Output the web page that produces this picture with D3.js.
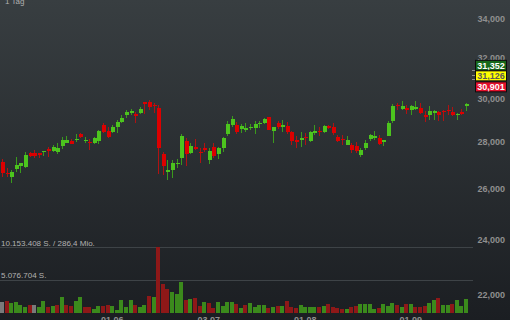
<!DOCTYPE html>
<html>
<head>
<meta charset="utf-8">
<script src="https://cdn.jsdelivr.net/npm/d3@7"></script>
<style>
  body { margin: 0; background: #1c1f23; }
  svg { display: block; }
  text { font-family: "Liberation Sans", Arial, sans-serif; }
</style>
</head>
<body>
<div id="chart"></div>
<script>
// Handelstage (Tageskerzen)
const dates = [
  "27.04", "28.04", "02.05", "03.05", "04.05", "05.05", "08.05", "09.05", "10.05", "11.05",
  "12.05", "15.05", "16.05", "17.05", "18.05", "19.05", "22.05", "23.05", "24.05", "25.05",
  "26.05", "29.05", "30.05", "31.05", "01.06", "02.06", "05.06", "06.06", "07.06", "09.06",
  "12.06", "13.06", "14.06", "15.06", "16.06", "19.06", "20.06", "21.06", "22.06", "23.06",
  "26.06", "27.06", "28.06", "29.06", "30.06", "03.07", "04.07", "05.07", "06.07", "07.07",
  "10.07", "11.07", "12.07", "13.07", "14.07", "17.07", "18.07", "19.07", "20.07", "21.07",
  "24.07", "25.07", "26.07", "27.07", "28.07", "31.07", "01.08", "02.08", "03.08", "04.08",
  "07.08", "08.08", "09.08", "10.08", "11.08", "14.08", "15.08", "16.08", "17.08", "18.08",
  "21.08", "22.08", "23.08", "24.08", "25.08", "28.08", "29.08", "30.08", "31.08", "01.09",
  "04.09", "05.09", "06.09", "07.09", "08.09", "11.09", "12.09", "13.09", "14.09", "15.09",
  "18.09", "19.09"
];

const open = [
  27130, 26660, 26490, 26820, 26960, 26890, 27490, 27490, 27490, 27540,
  27670, 27610, 27560, 27830, 27960, 28020, 28060, 28330, 28020, 27980,
  27930, 28030, 28750, 28470, 28430, 28670, 28890, 29210, 29320, 29260,
  29320, 29800, 29800, 29680, 29520, 27450, 26680, 26780, 27040, 27280,
  28050, 27490, 27780, 27560, 27710, 27200, 27760, 27460, 27740, 28340,
  28750, 28750, 28570, 28540, 28630, 28630, 28800, 28840, 29100, 28470,
  28860, 28670, 28710, 28420, 28060, 28080, 28220, 28050, 28390, 28490,
  28430, 28720, 28650, 28210, 28140, 27870, 27840, 27800, 27430, 27720,
  28120, 28170, 28170, 27990, 28270, 28950, 29690, 29500, 29540, 29430,
  29500, 29540, 29200, 29220, 29300, 29350, 29410, 29460, 29350, 29220,
  29330, 29640
];

const high = [
  27250, 26860, 26780, 27350, 27090, 27540, 27540, 27640, 27500, 27600,
  27780, 27860, 27930, 28200, 28250, 28140, 28340, 28380, 28200, 28140,
  28220, 28520, 28860, 28670, 28750, 28980, 29210, 29440, 29490, 29330,
  29570, 29830, 29910, 29750, 29680, 27560, 27200, 27200, 27230, 28330,
  28180, 27960, 28120, 27740, 27930, 27710, 27960, 27780, 28200, 28930,
  29160, 28870, 28800, 28860, 28780, 28920, 28930, 29060, 29130, 28670,
  28930, 28980, 28900, 28480, 28270, 28420, 28380, 28480, 28740, 28650,
  28760, 28760, 28840, 28310, 28290, 28270, 27940, 27990, 27720, 28090,
  28340, 28470, 28310, 28090, 28920, 29720, 29770, 29850, 29690, 29660,
  29850, 29770, 29380, 29610, 29460, 29410, 29460, 29690, 29570, 29300,
  29500, 29770
];

const low = [
  26490, 26470, 26240, 26700, 26640, 26870, 27320, 27280, 27280, 27380,
  27350, 27560, 27460, 27670, 27930, 27900, 28000, 28180, 27930, 27640,
  27890, 27910, 28400, 28180, 28380, 28390, 28830, 29060, 29210, 28860,
  29260, 29260, 29440, 29290, 26610, 26570, 26360, 26450, 26850, 26990,
  26960, 27450, 27620, 27060, 27540, 27030, 27300, 27230, 27560, 28270,
  28670, 28330, 28380, 28450, 28540, 28330, 28630, 28800, 28520, 27960,
  28560, 28450, 28330, 27860, 27740, 27780, 27860, 28000, 28310, 28270,
  28390, 28570, 28310, 27990, 27870, 27840, 27510, 27510, 27330, 27650,
  28050, 28090, 27840, 27800, 28240, 28840, 29460, 29430, 29260, 29200,
  29460, 29260, 28890, 28970, 28970, 28950, 28920, 29220, 29150, 28970,
  29220, 29410
];

const close = [
  26640, 26600, 26680, 26980, 27060, 27420, 27380, 27390, 27420, 27590,
  27610, 27780, 27720, 28080, 28080, 27910, 28120, 28210, 28090, 27930,
  28170, 28480, 28430, 28220, 28650, 28890, 29090, 29350, 29390, 29180,
  29490, 29720, 29570, 29630, 27710, 26960, 26780, 27090, 27090, 28270,
  27460, 27810, 27670, 27490, 27640, 27610, 27380, 27710, 28150, 28800,
  29020, 28420, 28710, 28630, 28670, 28780, 28860, 29020, 28540, 28650,
  28650, 28750, 28420, 28030, 28000, 28150, 28180, 28420, 28490, 28450,
  28720, 28620, 28390, 28050, 28060, 28090, 27650, 27580, 27650, 27940,
  28290, 28270, 27900, 28090, 28840, 29640, 29610, 29640, 29460, 29610,
  29600, 29300, 29100, 29410, 29410, 29220, 29330, 29380, 29200, 29270,
  29270, 29740
];

// Stückzahlen
const volume = [
  1560000, 1770000, 1410000, 1610000, 1200000, 890000, 1150000, 1150000, 780000, 1720000,
  890000, 940000, 1150000, 2340000, 1150000, 940000, 1770000, 2340000, 890000, 890000,
  620000, 990000, 990000, 1200000, 990000, 360000, 1930000, 890000, 1980000, 1200000,
  830000, 1150000, 2600000, 2400000, 10153408, 4430000, 3590000, 3120000, 2860000, 4690000,
  1930000, 2030000, 2190000, 1040000, 1670000, 1410000, 680000, 1670000, 1040000, 1560000,
  1670000, 1350000, 680000, 1150000, 1410000, 830000, 1150000, 1150000, 680000, 830000,
  1040000, 990000, 1770000, 890000, 730000, 1200000, 830000, 830000, 780000, 830000,
  990000, 1300000, 780000, 680000, 520000, 620000, 780000, 940000, 1300000, 1300000,
  1250000, 520000, 680000, 1350000, 1040000, 1460000, 1200000, 780000, 1300000, 1350000,
  890000, 890000, 990000, 1410000, 1930000, 2240000, 1200000, 1150000, 1350000, 1930000,
  1090000, 2030000
];

// 1 = steigend, -1 = fallend, 0 = unverändert
const volumeDir = [
  0, -1, 1, 1, 1, 1, -1, 0, 1, 1,
  -1, 1, -1, 1, -1, -1, 1, 1, -1, -1,
  1, 1, -1, -1, 1, 1, 1, 1, 1, -1,
  1, 1, -1, 1, -1, -1, -1, 1, 1, 1,
  -1, 1, -1, -1, 1, -1, -1, 1, 1, 1,
  1, -1, 1, -1, 1, 1, 1, 1, -1, 1,
  -1, 1, -1, -1, -1, 1, 1, 1, 1, -1,
  1, -1, -1, -1, -1, 1, -1, -1, 1, 1,
  1, 1, -1, 1, 1, 1, -1, 1, -1, 1,
  -1, -1, -1, 1, 1, -1, 1, 1, -1, 1,
  1, 1
];

const priceTicks = [22000, 24000, 26000, 28000, 30000, 32000, 34000];
const dateTicks = ["01.06", "03.07", "01.08", "01.09"];
const quoteValues = [31352, 31126, 30901];   // Brief / Letzter / Geld
const turnoverMio = 286.4;
const periodLabel = "1 Tag";

const width = 510, height = 320;

const de = d3.formatLocale({ decimal: ",", thousands: ".", grouping: [3], currency: ["", " €"] });
const fmtDe = de.format(",");
const fmtDe1 = de.format(",.1f");
const fmtPrice = d3.format(",");

const svg = d3.select("#chart").append("svg")
    .attr("width", width)
    .attr("height", height);

// Hintergrund mit Verlauf
const grad = svg.append("defs").append("linearGradient")
    .attr("id", "bg").attr("x1", 0).attr("y1", 0).attr("x2", 0).attr("y2", 1);
grad.append("stop").attr("offset", "0%").attr("stop-color", "#383e41");
grad.append("stop").attr("offset", "100%").attr("stop-color", "#1b1e22");
svg.append("rect").attr("width", width).attr("height", height).attr("fill", "url(#bg)");

// Skalen
const x = d3.scaleBand().domain(dates).range([-0.3, 468.3]);
const y = d3.scaleLog().domain([22000, 34000]).range([294.3, 19]);
const volMax = d3.max(volume);
const yVol = d3.scaleLinear().domain([0, volMax]).range([312.5, 247.3]);

const bw = x.bandwidth();
const cx = d => Math.round(x(d) + bw / 2);

// Volumen-Linien und Beschriftung
const volLevels = [volMax, volMax / 2];
svg.append("g").selectAll("line")
    .data(volLevels)
    .join("line")
    .attr("x1", 0).attr("x2", 473)
    .attr("y1", d => Math.round(yVol(d)) + 0.5)
    .attr("y2", d => Math.round(yVol(d)) + 0.5)
    .attr("stroke", "#3e4347")
    .attr("stroke-width", 1);

svg.append("g").selectAll("text")
    .data(volLevels)
    .join("text")
    .attr("x", 1)
    .attr("y", d => yVol(d) - 1.5)
    .style("font-size", "8px")
    .attr("fill", "#b2b2b2")
    .text((d, i) => i === 0
        ? `${fmtDe(d)} S. / ${fmtDe1(turnoverMio)} Mio.`
        : `${fmtDe(d)} S.`);

// Volumenbalken
const volColor = v => v > 0 ? "#3b8a1c" : v < 0 ? "#8e1818" : "#7a7a7a";
svg.append("g")
    .attr("shape-rendering", "crispEdges")
    .selectAll("rect")
    .data(dates)
    .join("rect")
    .attr("x", d => cx(d) - 2)
    .attr("width", 4)
    .attr("y", (d, i) => yVol(volume[i]))
    .attr("height", (d, i) => yVol(0) - yVol(volume[i]))
    .attr("fill", (d, i) => volColor(volumeDir[i]));

// Kerzen
const candles = svg.append("g").attr("shape-rendering", "crispEdges");
candles.selectAll("line")
    .data(dates)
    .join("line")
    .attr("x1", d => cx(d) + 0.5)
    .attr("x2", d => cx(d) + 0.5)
    .attr("y1", (d, i) => y(high[i]))
    .attr("y2", (d, i) => y(low[i]))
    .attr("stroke", (d, i) => close[i] >= open[i] ? "#3a9a1c" : "#b01212")
    .attr("stroke-width", 1);

candles.selectAll("rect")
    .data(dates)
    .join("rect")
    .attr("x", d => cx(d) - 1.5)
    .attr("width", 4)
    .attr("y", (d, i) => y(Math.max(open[i], close[i])))
    .attr("height", (d, i) => Math.max(1.2, Math.abs(y(open[i]) - y(close[i]))))
    .attr("fill", (d, i) => close[i] >= open[i] ? "#4cc41e" : "#dc0000");

// Preisachse rechts
svg.append("g")
    .attr("transform", "translate(505,0)")
    .call(d3.axisRight(y).tickValues(priceTicks).tickFormat(fmtPrice).tickSize(0).tickPadding(0))
    .call(g => g.select(".domain").remove())
    .selectAll("text")
    .attr("text-anchor", "end")
    .attr("fill", "#8f8f8f")
    .style("font-size", "9px")
    .style("font-weight", "bold");

// Datumsachse unten
svg.append("g")
    .attr("transform", "translate(0,317)")
    .call(d3.axisBottom(x).tickValues(dateTicks).tickSize(0).tickPadding(0))
    .call(g => g.select(".domain").remove())
    .selectAll("text")
    .attr("fill", "#8f8f8f")
    .style("font-size", "9px")
    .style("font-weight", "bold");

// Kursmarken (Brief / Letzter / Geld)
const mid = y(quoteValues[1]) + 1;
const boxY = [mid - 10.5, mid, mid + 11];
const boxFill = ["#17681a", "#ffff00", "#e3102b"];
const boxText = ["#ffffff", "#5a5a5a", "#ffffff"];

svg.append("g").selectAll("line")
    .data(quoteValues)
    .join("line")
    .attr("x1", 472).attr("x2", 475)
    .attr("y1", d => Math.round(y(d)) + 0.5)
    .attr("y2", d => Math.round(y(d)) + 0.5)
    .attr("stroke", "#8a8a8a");

const quotes = svg.append("g").selectAll("g")
    .data(quoteValues)
    .join("g")
    .attr("transform", (d, i) => `translate(475.5,${boxY[i]})`);
quotes.append("rect")
    .attr("x", 0).attr("y", -5)
    .attr("width", 31).attr("height", 10)
    .attr("fill", (d, i) => boxFill[i])
    .attr("stroke", "#0c0c0c")
    .attr("stroke-width", 1);
quotes.append("text")
    .attr("x", 15.5)
    .attr("y", 0)
    .attr("dy", "0.35em")
    .attr("text-anchor", "middle")
    .attr("fill", (d, i) => boxText[i])
    .style("font-size", "9px")
    .style("font-weight", "bold")
    .text(d => fmtPrice(d));

// Zeitraum oben links
svg.append("text")
    .attr("x", 5)
    .attr("y", 3.5)
    .attr("fill", "#b0b0b0")
    .style("font-size", "8px")
    .text(periodLabel);
</script>
</body>
</html>
